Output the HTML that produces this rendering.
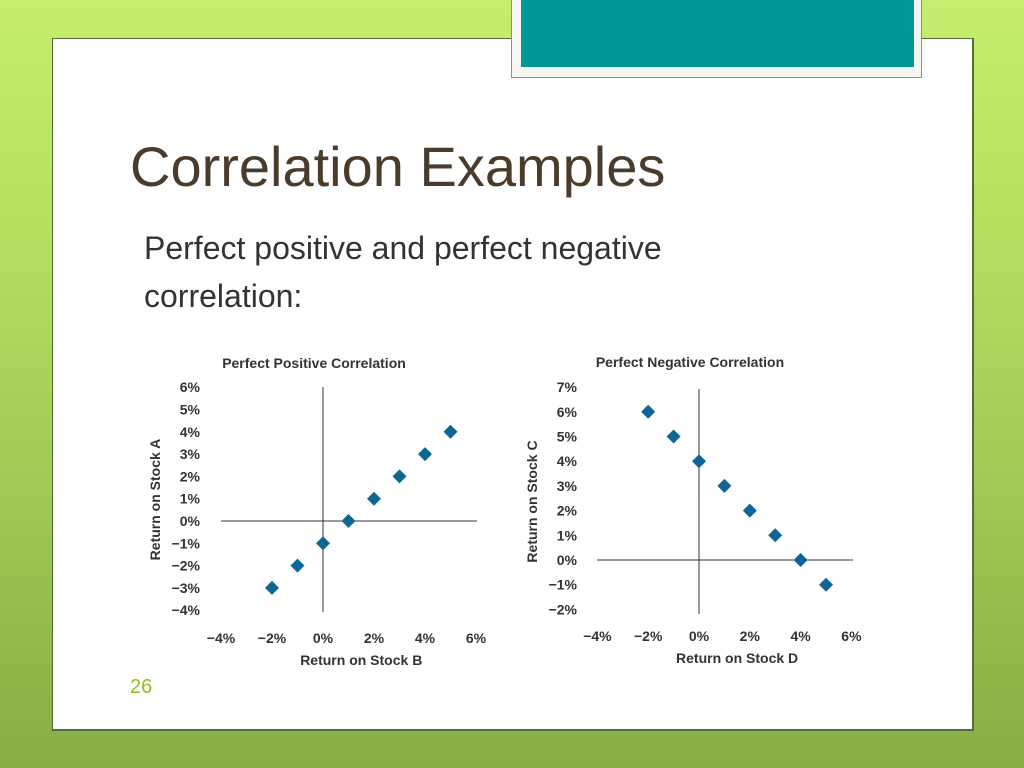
<!DOCTYPE html>
<html><head><meta charset="utf-8"><style>
body{margin:0;width:1024px;height:768px;overflow:hidden;position:relative;font-family:"Liberation Sans",sans-serif;
background:linear-gradient(180deg,#c6ee6c 0%,#b3dc5e 35%,#9cc451 70%,#88ad45 100%);}
#panel{position:absolute;left:52px;top:38px;width:919px;height:690px;background:#fff;border:1px solid #556b3a;border-width:1px 2px 2px 1px;}
#tab{position:absolute;left:511px;top:-2px;width:409px;height:79px;background:#f6f5f0;border:1px solid #7ea43c;border-top:none;}
#tabin{position:absolute;left:9px;top:0;width:393px;height:69px;background:#009896;}
.t{position:absolute;white-space:nowrap}
svg text{font-family:"Liberation Sans",sans-serif;font-weight:bold;fill:#333}
</style></head><body>
<div id="panel"></div>
<div id="tab"><div id="tabin"></div></div>
<div class="t" style="left:130px;top:134px;font-size:56px;color:#4a3b2a">Correlation Examples</div>
<div class="t" style="left:144px;top:224px;font-size:32px;color:#333;line-height:48px">Perfect positive and perfect negative<br>correlation:</div>
<div class="t" style="left:130px;top:676px;font-size:20px;color:#8fbf1a">26</div>
<svg id="chart" width="1024" height="768" style="position:absolute;left:0;top:0"></svg>
<script>
const posX=[-2,-1,0,1,2,3,4,5];
const posY=[-3,-2,-1,0,1,2,3,4];
const negX=[-2,-1,0,1,2,3,4,5];
const negY=[6,5,4,3,2,1,0,-1];
const xTicks=["−4%","−2%","0%","2%","4%","6%"];
const xTickVals=[-4,-2,0,2,4,6];
const posYTicks=[6,5,4,3,2,1,0,-1,-2,-3,-4];
const negYTicks=[7,6,5,4,3,2,1,0,-1,-2];
const svg=document.getElementById('chart');
const NS='http://www.w3.org/2000/svg';
function mk(tag,attrs){const e=document.createElementNS(NS,tag);for(const k in attrs)e.setAttribute(k,attrs[k]);svg.appendChild(e);return e;}
function chart(c){
  const sx=v=>c.x0+v*c.kx, sy=v=>c.y0-v*c.ky;
  let e=mk('text',{x:c.titleX,y:c.titleY,'font-size':14,'text-anchor':'middle'});e.textContent=c.title;
  
  
  e=mk('line',{x1:c.hx1,x2:c.hx2,y1:sy(0),y2:sy(0),stroke:'#333','stroke-width':1});
  
  
  e=mk('line',{x1:sx(0),x2:sx(0),y1:c.vy1,y2:c.vy2,stroke:'#333','stroke-width':1});
  
  
  c.yt.forEach(v=>{const t=mk('text',{x:c.ylx,y:sy(v)+5,'font-size':14,'text-anchor':'end'});t.textContent=(v<0?'−':'')+Math.abs(v)+'%';
    
    });
  xTickVals.forEach((v,i)=>{const t=mk('text',{x:sx(v),y:c.xly,'font-size':14,'text-anchor':'middle'});t.textContent=xTicks[i];
    
    });
  e=mk('text',{x:sx(1.5),y:c.xly+22,'font-size':14,'text-anchor':'middle'});e.textContent=c.xt;
  
  
  const ym=(c.vy1+c.vy2)/2;
  e=mk('text',{x:c.ytx,y:ym,'font-size':14,'text-anchor':'middle',transform:`rotate(-90 ${c.ytx} ${ym})`});e.textContent=c.yTitle;
  
  
  c.xs.forEach((xv,i)=>{const px=sx(xv),py=sy(c.ys[i]);
    const p=mk('polygon',{points:`${px},${py-7} ${px+7},${py} ${px},${py+7} ${px-7},${py}`,fill:'#0d6694'});
    
    });
}
chart({id:'positive',title:'Perfect Positive Correlation',titleX:314,titleY:368,x0:323,kx:25.5,y0:521,ky:22.3,hx1:221,hx2:477,vy1:387,vy2:612,
  ylx:200,xly:643,xs:posX,ys:posY,yt:posYTicks,xt:'Return on Stock B',yTitle:'Return on Stock A',ytx:160});
chart({id:'negative',title:'Perfect Negative Correlation',titleX:690,titleY:367,x0:699,kx:25.4,y0:560,ky:24.7,hx1:597,hx2:853,vy1:389,vy2:614,
  ylx:577,xly:641,xs:negX,ys:negY,yt:negYTicks,xt:'Return on Stock D',yTitle:'Return on Stock C',ytx:537});
</script>
</body></html>
